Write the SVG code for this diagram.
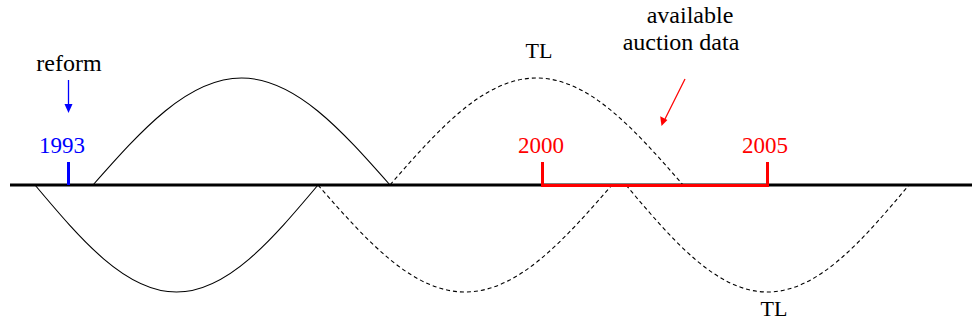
<svg xmlns="http://www.w3.org/2000/svg" width="972" height="326" viewBox="0 0 972 326">
<g id="curves" fill="none" stroke="#000" stroke-width="1.1">
<path d="M93,185 C141.4,130.2 187.8,78 241.5,78 C295.2,78 341.6,130.2 390,185"/>
<path stroke-dasharray="4 3" d="M390,185 C437.8,130.2 483.5,78 536.5,78 C589.5,78 635.2,130.2 683,185"/>
<path d="M35,185 C81.1,239.8 125.4,292 176.5,292 C227.6,292 271.9,239.8 318,185"/>
<path stroke-dasharray="4 3" d="M318,185 C365.9,239.8 411.8,292 465,292 C518.2,292 564.1,239.8 612,185"/>
<path stroke-dasharray="4 3" d="M626,185 C672.1,239.8 716.4,292 767.5,292 C818.6,292 862.9,239.8 909,185"/>
</g>
<g id="axis"><line x1="10" y1="185" x2="972" y2="185" stroke="#000" stroke-width="3"/></g>
<g font-size="24" text-anchor="middle" font-family="'Liberation Serif'">
<g id="reform">
<text x="69" y="71">reform</text>
<line x1="68.5" y1="80" x2="68.5" y2="106" stroke="#0000ff" stroke-width="1.3"/>
<path d="M64.5,104 L72.5,104 L68.5,113 Z" fill="#0000ff"/>
<text x="62" y="153" font-size="23" fill="#0000ff">1993</text>
<line x1="68.5" y1="162" x2="68.5" y2="185" stroke="#0000ff" stroke-width="3"/>
</g>
<g id="auction">
<text x="541" y="153" font-size="23" fill="#ff0000">2000</text>
<text x="765" y="153" font-size="23" fill="#ff0000">2005</text>
<path d="M542.5,162 V185.5 H767.5 V162" fill="none" stroke="#ff0000" stroke-width="3"/>
<text x="690" y="23">available</text>
<text x="681" y="50">auction data</text>
<line x1="685" y1="79" x2="665" y2="119" stroke="#ff0000" stroke-width="1.3"/>
<path d="M660.2,116.3 L667.4,119.9 L661.5,126 Z" fill="#ff0000"/>
</g>
<g id="labels">
<text x="539" y="58" font-size="22">TL</text>
<text x="774" y="316" font-size="22">TL</text>
</g>
</g>
</svg>
